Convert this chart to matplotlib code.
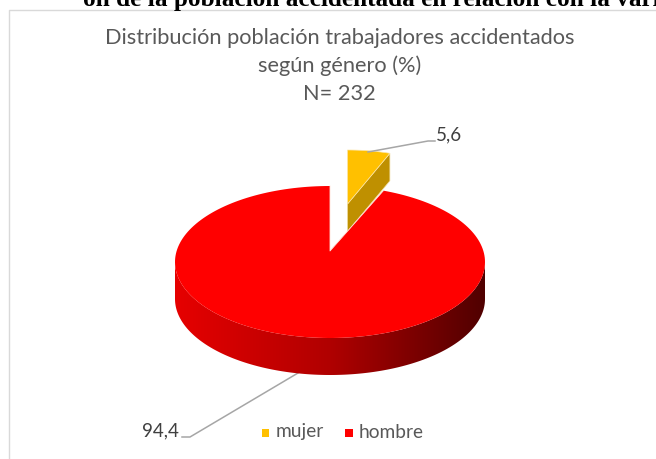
#!/usr/bin/env python3
"""Exploded 3D-look pie: injured workers by gender."""
import matplotlib
matplotlib.use("Agg")
import matplotlib.pyplot as plt
import numpy as np
from matplotlib.colors import LinearSegmentedColormap
from matplotlib.patches import Polygon, Rectangle

categories = ["mujer", "hombre"]
values = [5.6, 94.4]
value_labels = ["5,6", "94,4"]
colors = ["#FFC000", "#FF0000"]
title_lines = ["Distribución población trabajadores accidentados", "según género (%)", "N= 232"]
W, H = 656, 459


def arc(cx, cy, rx, ry, a0, a1, n=200):
    # angles in degrees, clockwise from 12 o'clock
    t = np.radians(np.linspace(a0, a1, n))
    return np.column_stack([cx + rx * np.sin(t), cy - ry * np.cos(t)])


fig = plt.figure(figsize=(W / 100, H / 100), dpi=100)
ax = fig.add_axes([0, 0, 1, 1])
ax.set_xlim(0, W)
ax.set_ylim(H, 0)
ax.axis("off")

# text cut off at the top of the page, and the chart frame
ax.text(83, 6, "ón de la población accidentada en relación con la variable", family="Liberation Serif",
        weight="bold", fontsize=18.2, color="black", va="baseline", clip_on=True)
ax.plot([8.5, 8.5, W], [H, 9.5, 9.5], color="#D9D9D9", lw=1)

sweep = values[0] / sum(values) * 360

# big slice
cx, cy, rx, ry, depth = 330, 262, 155, 76, 37
rim = arc(cx, cy, rx, ry, 90, 270)
side = np.vstack([rim, (rim + [0, depth])[::-1]])
grad = LinearSegmentedColormap.from_list("side", ["#E60000", "#B00000", "#500000"])
im = ax.imshow(np.linspace(0, 1, 256).reshape(1, -1), cmap=grad, aspect="auto",
               extent=[cx - rx, cx + rx, cy + ry + depth, cy - ry], zorder=2)
im.set_clip_path(Polygon(side, transform=ax.transData))
ax.set_xlim(0, W)
ax.set_ylim(H, 0)
apex = [cx, cy - 11]
top = np.vstack([[apex], arc(cx, cy, rx, ry, sweep, 360)])
ax.add_patch(Polygon(top, fc=colors[1], ec="none", zorder=5))
# pale edge along the two cut sides of the gap
ax.plot([top[1][0], apex[0], top[-1][0]], [top[1][1], apex[1], top[-1][1]], color="#FFE0D8", lw=0.6, zorder=6)

# small slice, pulled out
sx, sy, srx, sry, sdepth = 347.5, 204, 123, 54, 27.5
tip = arc(sx, sy, srx, sry, sweep, sweep, 1)[0]
wall = [[sx, sy], tip, tip + [0, sdepth], [sx, sy + sdepth]]
ax.add_patch(Polygon(wall, fc="#BF9000", ec="#F0DDA0", lw=0.5, zorder=4))
face = np.vstack([[sx, sy], arc(sx, sy, srx, sry, 0, sweep, 40)])
ax.add_patch(Polygon(face, fc=colors[0], ec="#FBE5A8", lw=0.5, zorder=5))

# title
for line, y in zip(title_lines, [38, 66, 94]):
    ax.text(339.5, y, line, family="Lato", fontsize=15.7, color="#595959", ha="center", va="center")

# leader lines and value labels
ax.plot([368, 428, 435], [152, 141, 141], color="#A6A6A6", lw=1.1, zorder=6)
ax.plot([298, 190, 182], [373, 437, 437], color="#A6A6A6", lw=1.1, zorder=1)
ax.text(449, 135, value_labels[0], family="Lato", fontsize=13.5, color="#404040", ha="center", va="center")
ax.text(160, 431, value_labels[1], family="Lato", fontsize=13.5, color="#404040", ha="center", va="center")

# legend
for name, color, bx in zip(categories, colors, [261.5, 345]):
    ax.add_patch(Rectangle((bx, 429), 7.5, 7.5, fc=color, ec="none"))
    ax.text(bx + 14, 432, name, family="Lato", fontsize=13.8, color="#595959", ha="left", va="center")

fig.savefig("out.png", dpi=100)
